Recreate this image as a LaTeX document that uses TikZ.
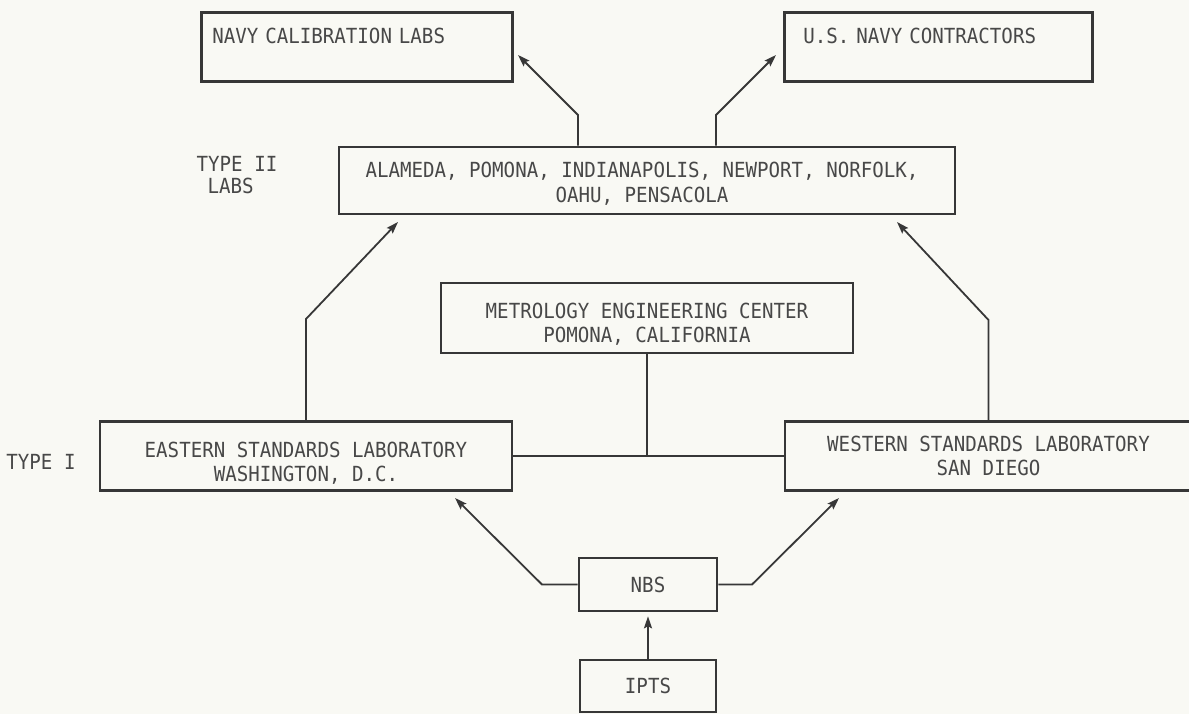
\documentclass[tikz,border=0pt]{standalone}
\usepackage{fontspec}
\usetikzlibrary{arrows.meta}
\newfontfamily\labfont[FakeStretch=0.92]{DejaVu Sans Mono}
\definecolor{paper}{RGB}{249,249,244}
\definecolor{linegray}{RGB}{55,55,55}
\definecolor{inkgray}{RGB}{72,72,72}

\begin{document}
\begin{tikzpicture}[x=1pt,y=-1pt]
    \tikzstyle{box}=[rectangle,draw=linegray,line width=2.6pt,text=inkgray,inner sep=0pt,
                     font=\labfont\fontsize{20.8}{24.5}\selectfont]
    \tikzstyle{toplab}=[box,anchor=north west,align=left,text height=31.5pt,text depth=37.5pt]
    \tikzstyle{inbox}=[text=inkgray,inner sep=0pt,align=center,
                       font=\labfont\fontsize{20.8}{24.5}\selectfont]
    \tikzstyle{tag}=[text=inkgray,inner sep=0pt,font=\labfont\fontsize{20.8}{22}\selectfont]
    \tikzstyle{conn}=[draw=linegray,line width=1.8pt]
    \tikzstyle{arr}=[conn,-{Stealth[length=12pt,width=8pt,inset=2pt]}]
    \useasboundingbox[fill=paper] (0,0) rectangle (1189,714);

    \node[toplab,inner xsep=11pt,text width=289pt] (navy) at (200,11) {NAVY CALIBRATION LABS};
    \node[toplab,inner xsep=19pt,text width=270pt] (contr) at (783,11) {U.S. NAVY CONTRACTORS};
    \node[box,minimum width=616pt,minimum height=67pt,
          label={[inbox,yshift=-3pt,xshift=-5pt]center:ALAMEDA, POMONA, INDIANAPOLIS, NEWPORT, NORFOLK,\\OAHU, PENSACOLA}]
          (type2) at (647,180.5) {};
    \node[box,minimum width=412pt,minimum height=70pt,
          label={[inbox,yshift=-6pt]center:METROLOGY ENGINEERING CENTER\\POMONA, CALIFORNIA}]
          (metro) at (647,318) {};
    \node[box,minimum width=412pt,minimum height=69pt,
          label={[inbox,yshift=-7pt]center:EASTERN STANDARDS LABORATORY\\WASHINGTON, D.C.}]
          (east) at (306,456) {};
    \node[box,minimum width=407pt,minimum height=69pt,align=center] (west) at (988.5,456)
        {WESTERN STANDARDS LABORATORY\\SAN DIEGO};
    \node[box,minimum width=138pt,minimum height=53pt] (nbs) at (648,584.5) {NBS};
    \node[box,minimum width=136pt,minimum height=52pt] (ipts) at (648,686) {IPTS};

    \node[tag,align=left] (type2lbl) at (237,175) {TYPE II\\\hspace*{11pt}LABS};
    \node[tag] (type1lbl) at (41,462) {TYPE I};

    \coordinate (kn1) at (578,115);   \coordinate (tip1) at (518,55);
    \coordinate (kn2) at (716,115);   \coordinate (tip2) at (776,55);
    \coordinate (kn3) at (306,319);   \coordinate (tip3) at (398,222);
    \coordinate (kn4) at (988.5,320); \coordinate (tip4) at (897,222);
    \coordinate (kn5) at (542,584.5); \coordinate (tip5) at (455,498);
    \coordinate (kn6) at (752,584.5); \coordinate (tip6) at (839,498);

    \draw[arr] (kn1 |- type2.north) -- (kn1) -- (tip1);
    \draw[arr] (kn2 |- type2.north) -- (kn2) -- (tip2);
    \draw[arr] (east.north) -- (kn3) -- (tip3);
    \draw[arr] (west.north) -- (kn4) -- (tip4);
    \draw[conn] (east.east) -- (west.west);
    \draw[conn] (metro.south) -- (metro.south |- east.east);
    \draw[arr] (nbs.west) -- (kn5) -- (tip5);
    \draw[arr] (nbs.east) -- (kn6) -- (tip6);
    \draw[arr,shorten >=4pt] (ipts.north) -- (nbs.south);
\end{tikzpicture}
\end{document}
